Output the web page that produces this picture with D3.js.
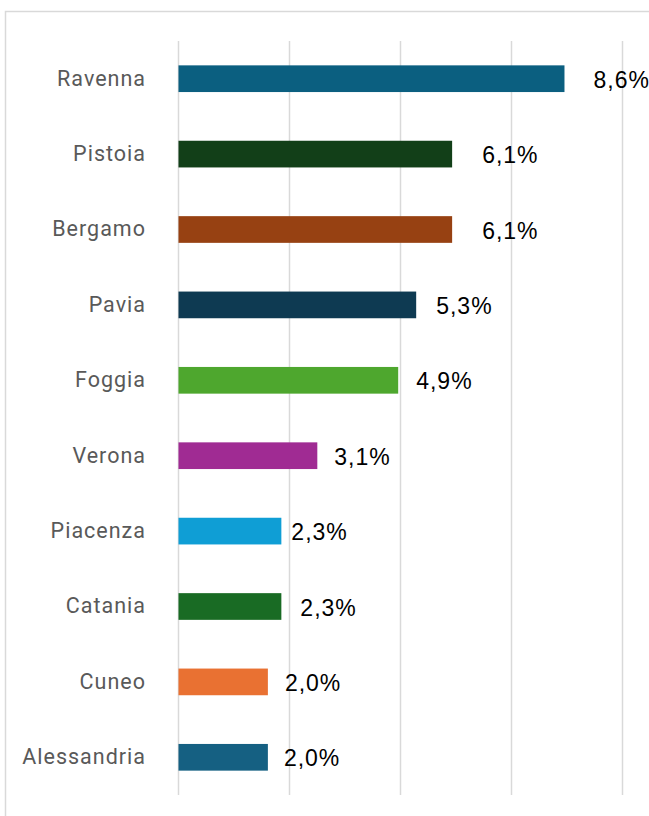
<!DOCTYPE html>
<html>
<head>
<meta charset="utf-8">
<script src="https://cdn.jsdelivr.net/npm/d3@7"></script>
<style>
  html, body { margin: 0; padding: 0; background: #fff; }
  svg { display: block; }
</style>
</head>
<body>
<svg id="chart" width="649" height="816"></svg>
<script>
const cities = ["Ravenna", "Pistoia", "Bergamo", "Pavia", "Foggia", "Verona", "Piacenza", "Catania", "Cuneo", "Alessandria"];
const shares = [8.6, 6.1, 6.1, 5.3, 4.9, 3.1, 2.3, 2.3, 2.0, 2.0];
const barColors = ["#0b5f80", "#123f18", "#974112", "#0e3a52", "#4ea72e", "#a02b93", "#0f9ed5", "#196b24", "#e97132", "#156082"];
// manual data-label nudges (px right of bar end), as in the original
const labelNudge = [29, 30, 30, 20, 18, 17, 10, 19, 17, 16];

(() => {
  const width = 649;
  const height = 816;
  const margin = { top: 41, right: 27, bottom: 21, left: 178 };
  const innerWidth = 622 - margin.left;
  const innerHeight = height - margin.top - margin.bottom;
  const xMax = 9.88;

  const svg = d3.select("#chart");

  // chart frame
  svg.append("rect")
    .attr("x", 5.5)
    .attr("y", 11.5)
    .attr("width", 800)
    .attr("height", 900)
    .attr("fill", "none")
    .attr("stroke", "#d9d9d9")
    .attr("stroke-width", 1.5);

  const g = svg.append("g")
    .attr("transform", `translate(${margin.left}, ${margin.top})`);

  const data = cities.map((c, i) => ({ city: c, value: shares[i], color: barColors[i], nudge: labelNudge[i] }));

  const x = d3.scaleLinear()
    .domain([0, xMax])
    .range([0, innerWidth]);

  const y = d3.scaleBand()
    .domain(cities)
    .range([0, innerHeight])
    .paddingInner(0.646)
    .paddingOuter(0.323);

  // vertical gridlines
  g.append("g")
    .attr("class", "grid")
    .call(d3.axisBottom(x)
      .tickValues(d3.range(0, 5).map(i => i * xMax / 4))
      .tickSize(innerHeight)
      .tickFormat(""))
    .call(s => s.select(".domain").remove())
    .selectAll("line")
    .attr("stroke", "#d9d9d9")
    .attr("stroke-width", 1.5);

  // category labels
  g.append("g")
    .call(d3.axisLeft(y).tickSize(0).tickPadding(32))
    .call(s => s.select(".domain").remove())
    .selectAll("text")
    .attr("fill", "#595959")
    .style("font-family", "Roboto, 'Liberation Sans', sans-serif")
    .style("font-size", "21.5px")
    .style("letter-spacing", "1px");

  g.selectAll(".bar")
    .data(data)
    .join("rect")
    .attr("class", "bar")
    .attr("x", x(0) + 0.5)
    .attr("y", d => y(d.city))
    .attr("width", d => x(d.value) - 0.5)
    .attr("height", y.bandwidth())
    .attr("fill", d => d.color);

  g.selectAll(".label")
    .data(data)
    .join("text")
    .attr("class", "label")
    .attr("x", d => x(d.value) + d.nudge)
    .attr("y", d => y(d.city) + y.bandwidth() / 2 + 1)
    .attr("dy", "0.35em")
    .attr("fill", "#000")
    .style("font-family", "'Liberation Sans', Arial, sans-serif")
    .style("font-size", "23px")
    .style("letter-spacing", "1px")
    .text(d => d.value.toFixed(1).replace(".", ",") + "%");
})();
</script>
</body>
</html>
